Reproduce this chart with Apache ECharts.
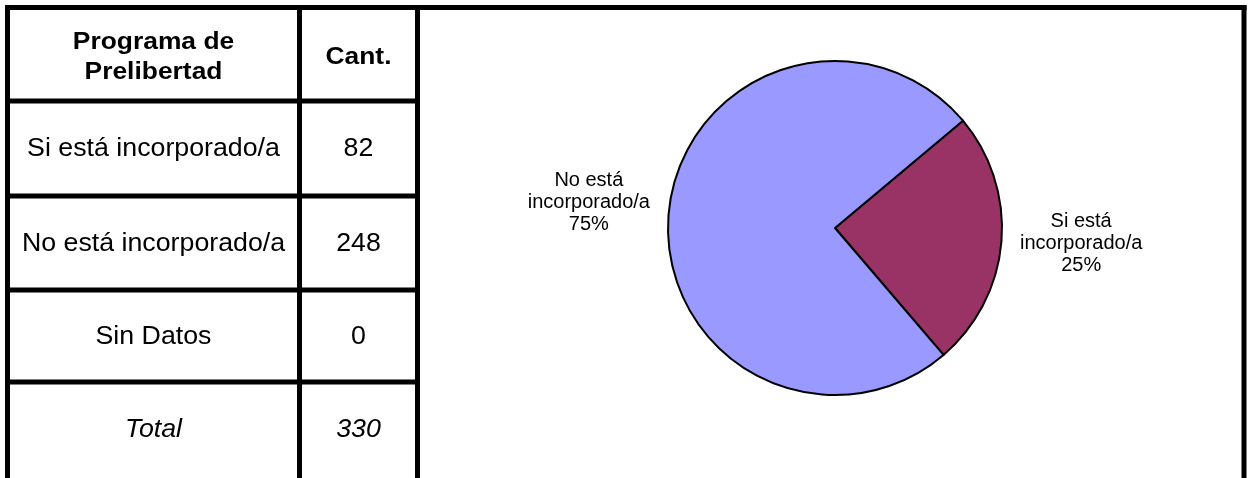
<!DOCTYPE html>
<html>
<head>
<meta charset="utf-8">
<title>Programa de Prelibertad</title>
<script src="https://cdn.jsdelivr.net/npm/echarts@6/dist/echarts.min.js"></script>
<style>
  html, body { margin: 0; padding: 0; background: #ffffff; }
  #chart { width: 1251px; height: 478px; }
</style>
</head>
<body>
<div id="chart"></div>
<script>
// Table contents and pie values
const headerLabels = ['Programa de\nPrelibertad', 'Cant.'];
const categories = ['Si está incorporado/a', 'No está incorporado/a', 'Sin Datos'];
const counts = [82, 248, 0];
const totalLabel = 'Total';
const sliceColors = ['#993366', '#9999FF', '#FFFFCC'];

// Frame / table geometry (pixels)
const LINE = 5;
const frameTop = 7.5;
const frameLeft = 7.5;
const frameRight = 1244;
const colDivider = 299.5;
const tableRight = 417.5;
const rowLines = [101, 196, 290, 382];
const rowTops = [frameTop].concat(rowLines);
const rowBottoms = rowLines.concat([478]);

// Pie geometry
const pieCenter = [835, 228];
const pieRadius = 167;
const pieStart = 40;
const labelDistance = 247;
const labelLift = 5;

const FONT = '"Liberation Sans", Arial, sans-serif';

const total = counts.reduce((a, b) => a + b, 0);

const chart = echarts.init(document.getElementById('chart'), null, { renderer: 'canvas' });

// Ruling lines of the frame and table
const graphics = [];
function hLine(x1, x2, y, w) {
  graphics.push({ type: 'rect', silent: true, shape: { x: x1, y: y - w / 2, width: x2 - x1, height: w }, style: { fill: '#000' } });
}
function vLine(x, y1, y2, w) {
  graphics.push({ type: 'rect', silent: true, shape: { x: x - w / 2, y: y1, width: w, height: y2 - y1 }, style: { fill: '#000' } });
}
hLine(frameLeft - LINE / 2, frameRight + LINE / 2, frameTop, LINE);
vLine(frameLeft, frameTop - LINE / 2, 478, LINE);
vLine(colDivider, frameTop, 478, LINE);
vLine(tableRight, frameTop, 478, LINE);
vLine(frameRight, frameTop - LINE / 2, 478, LINE);
rowLines.forEach(function (y) { hLine(frameLeft, tableRight, y, LINE); });

// Cell texts
function cellText(text, col, row, opts, stretch, dy) {
  const x = col === 0 ? (frameLeft + colDivider) / 2 : (colDivider + tableRight) / 2;
  const y = (rowTops[row] + Math.min(rowBottoms[row], rowTops[row] + 94)) / 2 + (dy || 1);
  graphics.push({
    type: 'text', silent: true, x: x, y: y, scaleX: stretch || 1.07,
    style: Object.assign({
      text: text, fill: '#000', fontFamily: FONT, fontSize: 25,
      align: 'center', verticalAlign: 'middle', lineHeight: 29
    }, opts || {})
  });
}
cellText(headerLabels[0], 0, 0, { fontWeight: 'bold', fontSize: 24, lineHeight: 30 }, 1.1, 3);
cellText(headerLabels[1], 1, 0, { fontWeight: 'bold', fontSize: 24 }, 1.1, 3);
categories.forEach(function (c, i) {
  cellText(c, 0, i + 1);
  cellText(String(counts[i]), 1, i + 1);
});
cellText(totalLabel, 0, categories.length + 1, { fontStyle: 'italic' });
cellText(String(total), 1, categories.length + 1, { fontStyle: 'italic' });

// Pie slices (empty categories are not drawn)
const pieData = categories.map(function (c, i) {
  return { name: c, value: counts[i], itemStyle: { color: sliceColors[i] } };
}).filter(function (d) { return d.value > 0; });

const pieTotal = pieData.reduce(function (a, d) { return a + d.value; }, 0);
function midAngle(idx) {
  let acc = 0;
  for (let i = 0; i < idx; i++) acc += pieData[i].value;
  acc += pieData[idx].value / 2;
  return (pieStart - acc / pieTotal * 360) * Math.PI / 180;
}

chart.setOption({
  animation: false,
  backgroundColor: '#ffffff',
  graphic: graphics,
  series: [{
    type: 'pie',
    center: pieCenter,
    radius: pieRadius,
    startAngle: pieStart,
    clockwise: true,
    avoidLabelOverlap: false,
    data: pieData,
    itemStyle: { borderColor: '#000', borderWidth: 2 },
    emphasis: { disabled: true },
    label: {
      show: true,
      position: 'outside',
      color: '#000',
      fontFamily: FONT,
      fontSize: 20,
      lineHeight: 22,
      align: 'center',
      formatter: function (p) {
        return p.name.replace(' incorporado', '\nincorporado') + '\n' + Math.round(p.percent) + '%';
      }
    },
    labelLine: { show: false },
    labelLayout: function (params) {
      const a = midAngle(params.dataIndex);
      return {
        x: pieCenter[0] + labelDistance * Math.cos(a),
        y: pieCenter[1] - labelDistance * Math.sin(a) - labelLift,
        align: 'center',
        verticalAlign: 'middle'
      };
    }
  }]
});
</script>
</body>
</html>
